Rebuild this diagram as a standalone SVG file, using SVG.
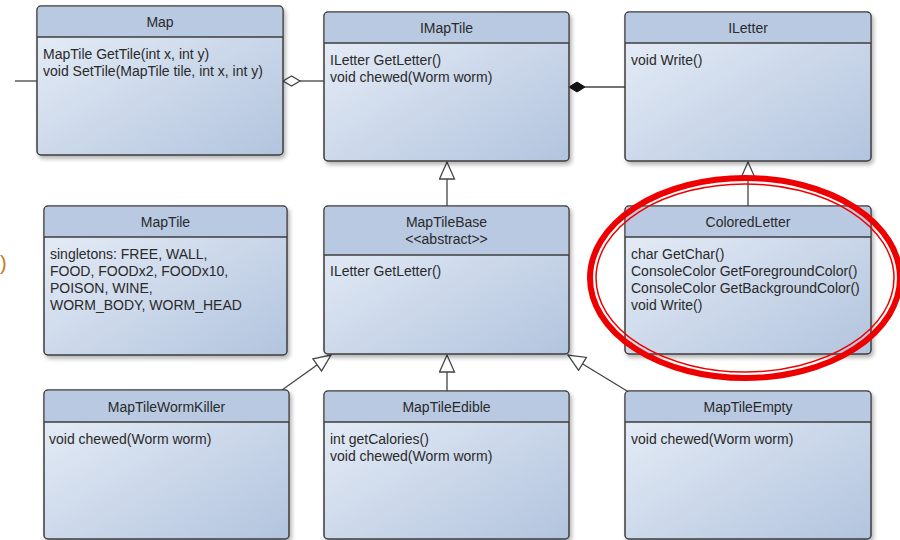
<svg xmlns="http://www.w3.org/2000/svg" width="900" height="540" viewBox="0 0 900 540">
  <style>
    .box { fill: url(#bodyGrad); stroke: #3c3c3c; stroke-width: 1.5; filter: url(#shadow); }
    .head { fill: #b8c9e1; }
    .sep { stroke: #3c3c3c; stroke-width: 1.5; }
    .title { font-family: "Liberation Sans", Arial, sans-serif; font-size: 14px; fill: #2a2a2a; text-anchor: middle; }
    .member { font-family: "Liberation Sans", Arial, sans-serif; font-size: 14px; fill: #2a2a2a; }
    .conn { stroke: #444; stroke-width: 1.3; fill: none; }
  </style>
  <defs>
    <linearGradient id="bodyGrad" x1="0" y1="0" x2="1" y2="1">
      <stop offset="0" stop-color="#e9eff8"/>
      <stop offset="1" stop-color="#b2c4de"/>
    </linearGradient>
    <filter id="shadow" x="-5%" y="-5%" width="115%" height="115%">
      <feGaussianBlur in="SourceAlpha" stdDeviation="2"/>
      <feOffset dx="2" dy="3" result="b"/>
      <feComponentTransfer><feFuncA type="linear" slope="0.3"/></feComponentTransfer>
      <feMerge><feMergeNode/><feMergeNode in="SourceGraphic"/></feMerge>
    </filter>
    <marker id="gen" markerUnits="userSpaceOnUse" markerWidth="20" markerHeight="18" viewBox="0 0 20 18" refX="18" refY="8.5" orient="auto">
      <path d="M1,1 L18,8.5 L1,16 Z" fill="#fff" stroke="#444" stroke-width="1.3"/>
    </marker>
  </defs>

  <rect width="900" height="540" fill="#fff"/>

  <!-- stray bracket at the left edge -->
  <text x="0" y="270" font-family="Liberation Sans, Arial, sans-serif" font-size="20" fill="#c07830">)</text>

  <g id="connectors">
    <line class="conn" x1="15" y1="81" x2="37" y2="81"/>
    <!-- Map o- IMapTile (aggregation) -->
    <line class="conn" x1="300" y1="81" x2="324" y2="81"/>
    <polygon points="283,81 291.5,76 300,81 291.5,86" fill="#fff" stroke="#444" stroke-width="1.3"/>
    <!-- IMapTile *- ILetter (composition) -->
    <line class="conn" x1="585" y1="87" x2="625" y2="87"/>
    <polygon points="569,87 577,82 585,87 577,92" fill="#111" stroke="#111" stroke-width="1"/>
    <!-- generalisations -->
    <line class="conn" x1="447" y1="206" x2="447" y2="162" marker-end="url(#gen)"/>
    <line class="conn" x1="748" y1="206" x2="748" y2="162" marker-end="url(#gen)"/>
    <line class="conn" x1="447" y1="391" x2="447" y2="355" marker-end="url(#gen)"/>
    <line class="conn" x1="282" y1="390" x2="331" y2="355" marker-end="url(#gen)"/>
    <line class="conn" x1="627" y1="391" x2="568" y2="355" marker-end="url(#gen)"/>
  </g>

  <g id="Map">
    <rect class="box" x="37" y="6" width="246" height="149" rx="4"/>
    <path class="head" d="M41,6.8 H279 a3.2,3.2 0 0 1 3.2,3.2 V37 H37.8 V10 a3.2,3.2 0 0 1 3.2,-3.2 Z"/>
    <line class="sep" x1="37" y1="37" x2="283" y2="37"/>
    <text class="title" x="160" y="27">Map</text>
    <text class="member" x="43" y="59">MapTile GetTile(int x, int y)</text>
    <text class="member" x="43" y="76">void SetTile(MapTile tile, int x, int y)</text>
  </g>

  <g id="IMapTile">
    <rect class="box" x="324" y="12" width="245" height="149" rx="4"/>
    <path class="head" d="M328,12.8 H565 a3.2,3.2 0 0 1 3.2,3.2 V43 H324.8 V16 a3.2,3.2 0 0 1 3.2,-3.2 Z"/>
    <line class="sep" x1="324" y1="43" x2="569" y2="43"/>
    <text class="title" x="446.5" y="33">IMapTile</text>
    <text class="member" x="330" y="65">ILetter GetLetter()</text>
    <text class="member" x="330" y="82">void chewed(Worm worm)</text>
  </g>

  <g id="ILetter">
    <rect class="box" x="625" y="12" width="246" height="149" rx="4"/>
    <path class="head" d="M629,12.8 H867 a3.2,3.2 0 0 1 3.2,3.2 V43 H625.8 V16 a3.2,3.2 0 0 1 3.2,-3.2 Z"/>
    <line class="sep" x1="625" y1="43" x2="871" y2="43"/>
    <text class="title" x="748" y="33">ILetter</text>
    <text class="member" x="631" y="65">void Write()</text>
  </g>

  <g id="MapTile">
    <rect class="box" x="44" y="206" width="243" height="149" rx="4"/>
    <path class="head" d="M48,206.8 H283 a3.2,3.2 0 0 1 3.2,3.2 V237 H44.8 V210 a3.2,3.2 0 0 1 3.2,-3.2 Z"/>
    <line class="sep" x1="44" y1="237" x2="287" y2="237"/>
    <text class="title" x="165.5" y="227">MapTile</text>
    <text class="member" x="50" y="259">singletons: FREE, WALL,</text>
    <text class="member" x="50" y="276">FOOD, FOODx2, FOODx10,</text>
    <text class="member" x="50" y="293">POISON, WINE,</text>
    <text class="member" x="50" y="310">WORM_BODY, WORM_HEAD</text>
  </g>

  <g id="MapTileBase">
    <rect class="box" x="324" y="206" width="245" height="148" rx="4"/>
    <path class="head" d="M328,206.8 H565 a3.2,3.2 0 0 1 3.2,3.2 V255 H324.8 V210 a3.2,3.2 0 0 1 3.2,-3.2 Z"/>
    <line class="sep" x1="324" y1="255" x2="569" y2="255"/>
    <text class="title" x="446.5" y="227">MapTileBase</text>
    <text class="title" x="446.5" y="244">&lt;&lt;abstract&gt;&gt;</text>
    <text class="member" x="330" y="276">ILetter GetLetter()</text>
  </g>

  <g id="ColoredLetter">
    <rect class="box" x="625" y="206" width="246" height="148" rx="4"/>
    <path class="head" d="M629,206.8 H867 a3.2,3.2 0 0 1 3.2,3.2 V237 H625.8 V210 a3.2,3.2 0 0 1 3.2,-3.2 Z"/>
    <line class="sep" x1="625" y1="237" x2="871" y2="237"/>
    <text class="title" x="748" y="227">ColoredLetter</text>
    <text class="member" x="631" y="259">char GetChar()</text>
    <text class="member" x="631" y="276">ConsoleColor GetForegroundColor()</text>
    <text class="member" x="631" y="293">ConsoleColor GetBackgroundColor()</text>
    <text class="member" x="631" y="310">void Write()</text>
  </g>

  <g id="MapTileWormKiller">
    <rect class="box" x="44" y="390" width="245" height="149" rx="4"/>
    <path class="head" d="M48,390.8 H285 a3.2,3.2 0 0 1 3.2,3.2 V422 H44.8 V394 a3.2,3.2 0 0 1 3.2,-3.2 Z"/>
    <line class="sep" x1="44" y1="422" x2="289" y2="422"/>
    <text class="title" x="166.5" y="412">MapTileWormKiller</text>
    <text class="member" x="49" y="444">void chewed(Worm worm)</text>
  </g>

  <g id="MapTileEdible">
    <rect class="box" x="324" y="391" width="245" height="148" rx="4"/>
    <path class="head" d="M328,391.8 H565 a3.2,3.2 0 0 1 3.2,3.2 V422 H324.8 V395 a3.2,3.2 0 0 1 3.2,-3.2 Z"/>
    <line class="sep" x1="324" y1="422" x2="569" y2="422"/>
    <text class="title" x="446.5" y="412">MapTileEdible</text>
    <text class="member" x="330" y="444">int getCalories()</text>
    <text class="member" x="330" y="461">void chewed(Worm worm)</text>
  </g>

  <g id="MapTileEmpty">
    <rect class="box" x="625" y="391" width="246" height="148" rx="4"/>
    <path class="head" d="M629,391.8 H867 a3.2,3.2 0 0 1 3.2,3.2 V422 H625.8 V395 a3.2,3.2 0 0 1 3.2,-3.2 Z"/>
    <line class="sep" x1="625" y1="422" x2="871" y2="422"/>
    <text class="title" x="748" y="412">MapTileEmpty</text>
    <text class="member" x="631" y="444">void chewed(Worm worm)</text>
  </g>

  <!-- red highlight ring -->
  <g id="highlight" fill="none" stroke="#ee0000">
    <ellipse cx="745" cy="278" rx="155" ry="100" stroke-width="6"/>
    <ellipse cx="745" cy="278" rx="149" ry="94" stroke-width="1.5"/>
  </g>
</svg>
